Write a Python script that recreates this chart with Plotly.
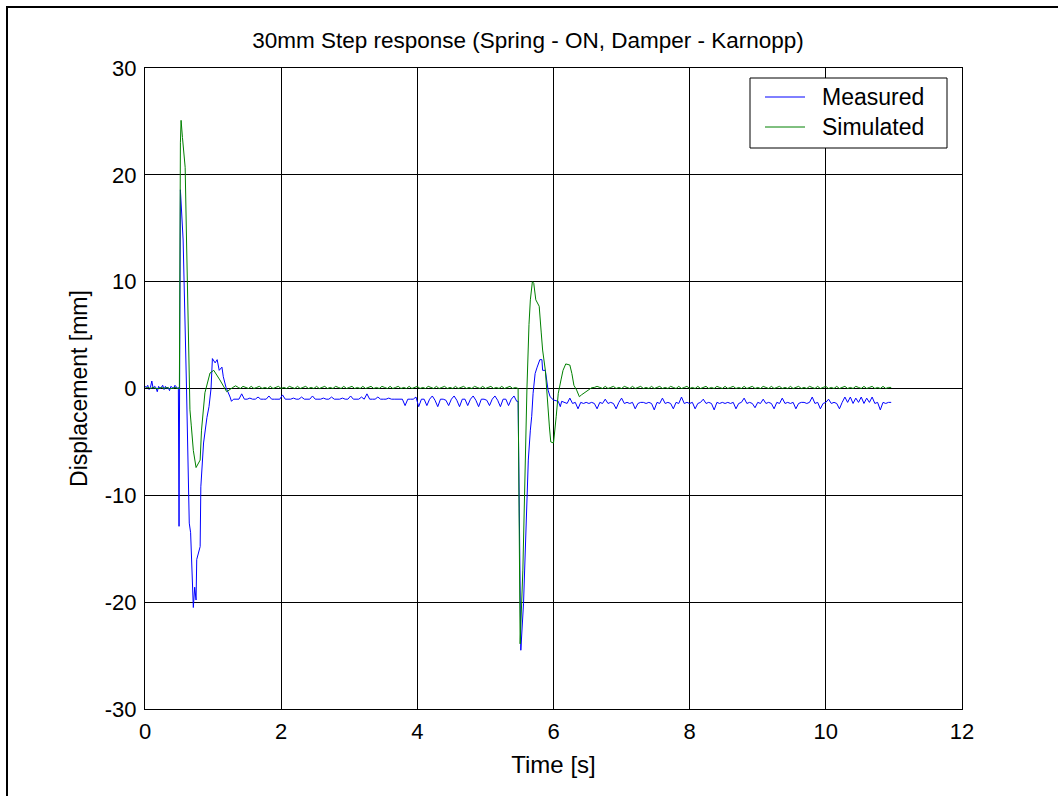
import numpy as np
import plotly.graph_objects as go

# ---------------- Measured ----------------
meas_pre_start, meas_pre_step = 0.0, 0.02
meas_pre = [0.2, 0.1, 0.3, -0.1, 0.1, 0.7, 0.0, 0.2, 0.1, -0.3, 0.2, 0.0, 0.1,
            0.3, -0.1, 0.2, 0.0, 0.1, -0.2, 0.2, 0.1, 0.0, 0.3, 0.1, 0.0]

meas_ev1_t = [0.49, 0.50, 0.52, 0.56, 0.61, 0.65, 0.67, 0.70, 0.71, 0.73, 0.75, 0.76,
              0.81, 0.82, 0.86, 0.91, 0.94, 0.97, 0.99, 1.03, 1.06, 1.09, 1.13, 1.15,
              1.19, 1.25, 1.27]
meas_ev1_y = [0.1, -12.9, 18.6, 13.9, 0.0, -12.6, -13.5, -18.2, -20.5, -18.6, -19.8, -16.0,
              -14.8, -9.2, -5.1, -2.7, -1.7, 0.0, 2.8, 2.4, 2.7, 1.7, 2.0, 1.1,
              0.1, -0.8, -1.2]

meas_mid_start, meas_mid_step = 1.30, 0.04
meas_mid = [-1.0, -1.0, -1.0, -0.5, -1.0, -1.0, -0.9, -1.0, -1.0, -0.8,
            -1.0, -1.0, -1.0, -0.7, -1.0, -1.0, -1.0, -1.0, -0.6, -1.0,
            -1.0, -1.0, -0.9, -1.0, -1.0, -0.8, -1.0, -1.0, -1.0, -0.7,
            -1.0, -1.0, -1.0, -0.9, -1.0, -1.0, -0.8, -1.0, -1.0, -1.0,
            -0.9, -1.0, -1.0, -0.7, -1.0, -1.0, -1.0, -0.8, -1.0, -0.5,
            -1.0, -1.0, -1.0, -0.8, -1.0, -1.0, -1.0, -0.9, -1.0, -1.0,
            -1.0, -1.0, -1.0, -1.6, -1.0, -1.0, -1.0, -0.8, -1.7, -1.0,
            -1.0, -1.6, -1.0, -0.7, -1.1, -1.7, -1.0, -1.0, -1.1, -1.6,
            -1.0, -0.7, -1.1, -1.7, -1.0, -1.0, -1.6, -1.0, -0.7, -1.1,
            -1.7, -1.0, -1.0, -1.1, -1.6, -1.0, -0.7, -1.1, -1.7, -1.0,
            -1.0, -1.6, -1.0, -0.7, -1.2]

meas_ev2_t = [5.48, 5.52, 5.56, 5.58, 5.61, 5.63, 5.66, 5.68, 5.70, 5.73, 5.76, 5.80,
              5.83, 5.84, 5.88, 5.90, 5.92, 5.95, 6.00, 6.07, 6.10, 6.12]
meas_ev2_y = [-1.2, -24.5, -20.1, -16.0, -10.4, -6.7, -3.9, -2.6, -0.45, 1.4, 2.0, 2.7,
              2.7, 1.7, 1.7, 0.8, -0.15, -0.77, -1.08, -1.2, -1.7, -1.2]

meas_post_start, meas_post_step = 6.16, 0.04
meas_post = [-1.3, -1.4, -0.9, -1.4, -1.3, -1.9, -1.3, -1.4, -1.3, -1.4,
             -1.3, -1.4, -1.9, -1.3, -1.4, -1.0, -1.4, -1.3, -1.4, -1.9,
             -1.3, -0.9, -1.4, -1.3, -1.4, -1.3, -1.9, -1.4, -1.3, -1.3,
             -1.4, -1.3, -1.4, -2.0, -1.3, -1.4, -0.9, -1.4, -1.3, -1.4,
             -1.9, -1.3, -1.4, -0.8, -1.4, -1.3, -1.4, -1.3, -1.9, -1.4,
             -1.3, -1.0, -1.4, -1.3, -1.4, -2.0, -1.3, -1.4, -1.3, -1.4,
             -1.3, -1.4, -1.3, -1.9, -1.4, -1.3, -0.9, -1.4, -1.3, -1.4,
             -1.8, -1.3, -1.4, -1.0, -1.4, -1.3, -1.4, -1.9, -1.3, -1.4,
             -0.9, -1.4, -1.3, -1.4, -1.3, -1.9, -1.4, -1.3, -1.3, -1.4,
             -1.3, -0.8, -1.4, -1.3, -1.9, -1.4, -1.3, -1.0, -1.4, -1.3,
             -1.4, -1.9, -1.3, -0.8, -1.3, -0.8, -1.4, -0.9, -1.3, -0.8,
             -1.4, -0.9, -1.3, -0.8, -1.4, -1.3, -2.0, -1.3, -1.4, -1.3,
             -1.3]

# ---------------- Simulated ----------------
sim_pre_start, sim_pre_step = 0.0, 0.04
sim_pre = [0.0, 0.1, 0.0, 0.1, 0.0, 0.0, 0.1, 0.0, 0.1, 0.0, 0.0, 0.1, 0.0]

sim_ev1_t = [0.50, 0.505, 0.52, 0.53, 0.55, 0.59, 0.61, 0.66, 0.68, 0.71, 0.75, 0.78,
             0.81, 0.83, 0.88, 0.955, 1.01, 1.10, 1.20, 1.29, 1.33, 1.37]
sim_ev1_y = [0.0, 0.0, 23.0, 25.1, 23.5, 20.7, 13.9, -2.0, -3.5, -5.8, -7.4, -7.0,
             -6.7, -3.9, -0.4, 1.45, 1.7, 0.8, -0.3, 0.1, 0.25, 0.1]

sim_mid_start, sim_mid_step = 1.40, 0.04
sim_mid = [0.0, 0.2, 0.1, 0.0, 0.2, 0.0, 0.1, 0.2, 0.0, 0.1,
           0.0, 0.2, 0.0, 0.1, 0.2, 0.0, 0.1, 0.0, 0.2, 0.1,
           0.0, 0.2, 0.0, 0.1, 0.2, 0.0, 0.1, 0.0, 0.2, 0.0,
           0.1, 0.2, 0.0, 0.1, 0.0, 0.2, 0.1, 0.0, 0.2, 0.0,
           0.1, 0.2, 0.0, 0.1, 0.0, 0.2, 0.0, 0.1, 0.2, 0.0,
           0.1, 0.0, 0.2, 0.1, 0.0, 0.2, 0.0, 0.1, 0.2, 0.0,
           0.1, 0.0, 0.2, 0.0, 0.1, 0.2, 0.0, 0.1, 0.0, 0.2,
           0.1, 0.0, 0.2, 0.0, 0.1, 0.2, 0.0, 0.1, 0.0, 0.2,
           0.0, 0.1, 0.2, 0.0, 0.1, 0.0, 0.2, 0.1, 0.0, 0.2,
           0.0, 0.1, 0.2, 0.0, 0.1, 0.0, 0.2, 0.0, 0.1, 0.2,
           0.0, 0.1]

sim_ev2_t = [5.48, 5.51, 5.55, 5.58, 5.61, 5.64, 5.66, 5.69, 5.71, 5.74, 5.79, 5.82,
             5.84, 5.88, 5.90, 5.94, 5.96, 6.00, 6.04, 6.07, 6.11, 6.14, 6.18, 6.24,
             6.27, 6.30, 6.34, 6.38, 6.41, 6.48, 6.56]
sim_ev2_y = [0.0, -23.9, -17.0, -8.0, 0.0, 6.0, 8.3, 10.0, 9.85, 8.3, 7.7, 5.2,
             3.6, 1.7, -0.45, -3.6, -5.0, -5.1, -2.6, -0.45, 0.8, 1.7, 2.3, 2.2,
             1.4, 0.3, -0.15, -0.77, -0.6, -0.3, 0.07]

sim_post_start, sim_post_step = 6.60, 0.04
sim_post = [0.1, 0.2, 0.1, 0.0, 0.2, 0.0, 0.1, 0.2, 0.0, 0.1,
            0.0, 0.2, 0.1, 0.0, 0.2, 0.0, 0.1, 0.2, 0.0, 0.1,
            0.0, 0.2, 0.0, 0.1, 0.2, 0.0, 0.1, 0.0, 0.2, 0.1,
            0.0, 0.2, 0.0, 0.1, 0.2, 0.0, 0.1, 0.0, 0.2, 0.0,
            0.1, 0.2, 0.0, 0.1, 0.0, 0.2, 0.1, 0.0, 0.2, 0.0,
            0.1, 0.2, 0.0, 0.1, 0.0, 0.2, 0.0, 0.1, 0.2, 0.0,
            0.1, 0.0, 0.2, 0.1, 0.0, 0.2, 0.0, 0.1, 0.2, 0.0,
            0.1, 0.0, 0.2, 0.0, 0.1, 0.2, 0.0, 0.1, 0.0, 0.2,
            0.1, 0.0, 0.2, 0.0, 0.1, 0.2, 0.0, 0.1, 0.0, 0.2,
            0.0, 0.1, 0.2, 0.0, 0.1, 0.0, 0.2, 0.1, 0.0, 0.2,
            0.0, 0.1, 0.2, 0.0, 0.1, 0.0, 0.2, 0.0, 0.1, 0.1]

series_names = ["Measured", "Simulated"]
series_colors = ["#0000FF", "#008000"]
x_ticks = [0, 2, 4, 6, 8, 10, 12]
y_ticks = [-30, -20, -10, 0, 10, 20, 30]


def grid(start, step, vals):
    return list(start + step * np.arange(len(vals)))


t_meas = (grid(meas_pre_start, meas_pre_step, meas_pre) + meas_ev1_t +
          grid(meas_mid_start, meas_mid_step, meas_mid) + meas_ev2_t +
          grid(meas_post_start, meas_post_step, meas_post))
y_meas = meas_pre + meas_ev1_y + meas_mid + meas_ev2_y + meas_post

t_sim = (grid(sim_pre_start, sim_pre_step, sim_pre) + sim_ev1_t +
         grid(sim_mid_start, sim_mid_step, sim_mid) + sim_ev2_t +
         grid(sim_post_start, sim_post_step, sim_post))
y_sim = sim_pre + sim_ev1_y + sim_mid + sim_ev2_y + sim_post

FONT = "Arial, 'Liberation Sans', sans-serif"

# plot-area geometry (pixels) used to place frame and legend
L, R, T, B = 145, 962, 68, 709
W, H = R - L, B - T


def px(x):
    return (x - L) / W


def py(y):
    return (B - y) / H


fig = go.Figure()
fig.add_trace(go.Scatter(x=t_meas, y=y_meas, mode="lines", name=series_names[0],
                         line=dict(color=series_colors[0], width=1), showlegend=False))
fig.add_trace(go.Scatter(x=t_sim, y=y_sim, mode="lines", name=series_names[1],
                         line=dict(color=series_colors[1], width=1), showlegend=False))

axis_common = dict(showgrid=True, gridcolor="black", gridwidth=1,
                   showline=True, linecolor="black", linewidth=1, mirror=True,
                   ticks="inside", ticklen=5, tickcolor="black",
                   ticklabelstandoff=3,
                   zeroline=False, tickfont=dict(family=FONT, size=22, color="black"))

shapes = [
    # outer figure frame (left and top visible)
    dict(type="rect", xref="paper", yref="paper",
         x0=px(7), x1=1.5, y0=-0.5, y1=py(7),
         line=dict(color="black", width=2), fillcolor="rgba(0,0,0,0)", layer="above"),
    # legend box
    dict(type="rect", xref="paper", yref="paper",
         x0=px(750), x1=px(947), y0=py(148), y1=py(78),
         line=dict(color="black", width=1), fillcolor="white", layer="above"),
]
annotations = []
for i, (nm, col) in enumerate(zip(series_names, series_colors)):
    yy = 97 + 30 * i
    shapes.append(dict(type="line", xref="paper", yref="paper",
                       x0=px(765), x1=px(805), y0=py(yy), y1=py(yy),
                       line=dict(color=col, width=1), layer="above"))
    annotations.append(dict(text=nm, xref="paper", yref="paper",
                            x=px(820), y=py(yy), xanchor="left", yanchor="middle",
                            showarrow=False,
                            font=dict(family=FONT, size=23, color="black")))

fig.update_layout(
    width=1058, height=796,
    margin=dict(l=L, r=1058 - R, t=T, b=796 - B),
    paper_bgcolor="white", plot_bgcolor="white",
    font=dict(family=FONT, size=22, color="black"),
    title=dict(text="30mm Step response (Spring - ON, Damper - Karnopp)",
               x=528 / 1058, xanchor="center", y=1 - 40 / 796, yanchor="middle",
               font=dict(family=FONT, size=22.5, color="black")),
    xaxis=dict(range=[0, 12], tickvals=x_ticks, ticktext=[str(v) for v in x_ticks],
               title=dict(text="Time [s]", standoff=12,
                          font=dict(family=FONT, size=24)),
               **axis_common),
    yaxis=dict(range=[-30, 30], tickvals=y_ticks, ticktext=[str(v) for v in y_ticks],
               title=dict(text="Displacement [mm]", standoff=10,
                          font=dict(family=FONT, size=23)),
               **axis_common),
    showlegend=False,
    shapes=shapes,
    annotations=annotations,
)

fig.write_html("out.html")
